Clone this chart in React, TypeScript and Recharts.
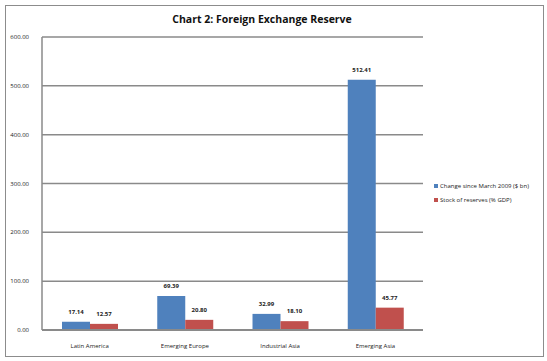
import { BarChart, Bar, XAxis, YAxis, CartesianGrid, LabelList } from 'recharts';

const regions = ['Latin America', 'Emerging Europe', 'Industrial Asia', 'Emerging Asia'];
const changeSinceMarch = [17.14, 69.39, 32.99, 512.41];
const stockOfReserves = [12.57, 20.8, 18.1, 45.77];
const yTicks = [0, 100, 200, 300, 400, 500, 600];

const data = regions.map((name, i) => ({
  name,
  change: changeSinceMarch[i],
  stock: stockOfReserves[i],
}));

const font = '"Open Sans", "Noto Sans", sans-serif';

export default function App() {
  const fmt = (v: any) => Number(v).toFixed(2);
  return (
    <div style={{ position: 'absolute', left: 0, top: 0, width: 547, height: 361, background: '#fff', fontFamily: font }}>
      <div style={{ position: 'absolute', left: 5, top: 5, width: 537, height: 350, border: '1px solid #8c8c8c' }} />
      <div style={{ position: 'absolute', left: 0, width: 524, top: 12, textAlign: 'center', fontSize: 10.5, fontWeight: 'bold', color: '#111' }}>
        Chart 2: Foreign Exchange Reserve
      </div>
      <BarChart width={547} height={361} data={data} margin={{ top: 37, right: 124, left: 0, bottom: 0 }}
        barCategoryGap="21%" barGap={0} style={{ position: 'absolute', left: 0, top: 0 }}>
        <CartesianGrid vertical={false} stroke="#8a8a8a" strokeWidth={1.5} />
        <XAxis dataKey="name" height={31} axisLine={{ stroke: '#8a8a8a', strokeWidth: 2 }} tickLine={false}
          tick={{ fontSize: 6, fill: '#222', fontFamily: font }} tickMargin={8} />
        <YAxis width={42} domain={[0, 600]} ticks={yTicks} tickFormatter={fmt} axisLine={{ stroke: '#8a8a8a', strokeWidth: 1.5 }}
          tickLine={false} tick={{ fontSize: 6, fill: '#222', fontFamily: font }} tickMargin={7} />
        <Bar dataKey="change" fill="#4F81BD" isAnimationActive={false}>
          <LabelList dataKey="change" position="top" offset={8} formatter={fmt} style={{ fontSize: 6, fill: '#222', fontWeight: 'bold', fontFamily: font }} />
        </Bar>
        <Bar dataKey="stock" fill="#C0504D" isAnimationActive={false}>
          <LabelList dataKey="stock" position="top" offset={8} formatter={fmt} style={{ fontSize: 6, fill: '#222', fontWeight: 'bold', fontFamily: font }} />
        </Bar>
      </BarChart>
      <div style={{ position: 'absolute', left: 434, top: 181, fontSize: 6, color: '#222', lineHeight: '10px' }}>
        <div style={{ display: 'flex', alignItems: 'center' }}>
          <span style={{ width: 4, height: 4, background: '#4F81BD', marginRight: 2, display: 'inline-block' }} />
          Change since March 2009 ($ bn)
        </div>
        <div style={{ display: 'flex', alignItems: 'center', marginTop: 4 }}>
          <span style={{ width: 4, height: 4, background: '#C0504D', marginRight: 2, display: 'inline-block' }} />
          Stock of reserves (% GDP)
        </div>
      </div>
    </div>
  );
}
